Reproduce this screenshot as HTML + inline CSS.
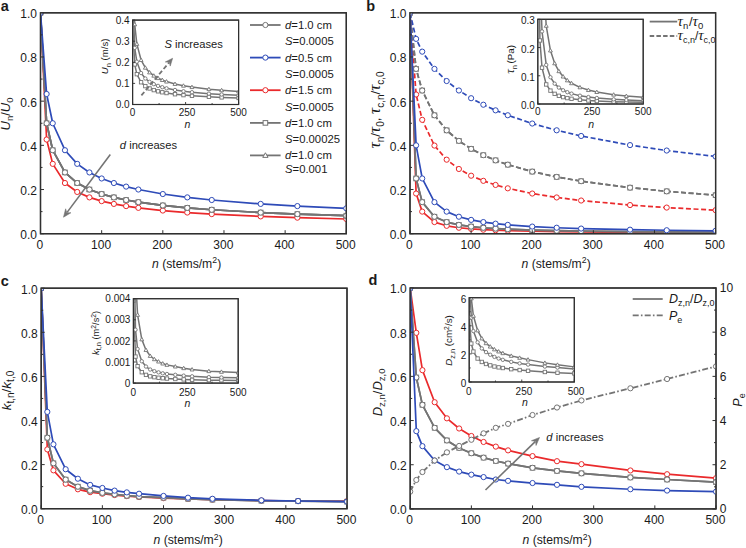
<!DOCTYPE html>
<html><head><meta charset="utf-8"><title>Figure</title>
<style>html,body{margin:0;padding:0;background:#fff;}svg{display:block;}text{font-family:"Liberation Sans",sans-serif;}</style></head>
<body>
<svg width="746" height="548" viewBox="0 0 746 548" font-family='"Liberation Sans", sans-serif' fill="#1a1a1a">
<rect width="746" height="548" fill="#fff"/>
<defs>
<clipPath id="ca"><rect x="40.5" y="12.8" width="305.8" height="220.9"/></clipPath>
<clipPath id="cb"><rect x="410" y="12.8" width="305.6" height="220.9"/></clipPath>
<clipPath id="cc"><rect x="41.2" y="288.2" width="305.8" height="220.5"/></clipPath>
<clipPath id="cd"><rect x="410.2" y="288" width="305.8" height="220.9"/></clipPath>
<clipPath id="cia"><rect x="132.6" y="20.1" width="106" height="84.4"/></clipPath>
<clipPath id="cib"><rect x="537.8" y="19.3" width="105.4" height="84.7"/></clipPath>
<clipPath id="cic"><rect x="133.4" y="298.7" width="104.8" height="84.4"/></clipPath>
<clipPath id="cid"><rect x="469.2" y="297.7" width="105.1" height="84.3"/></clipPath>
</defs>
<text x="0.8" y="11.2" font-size="14.5" text-anchor="start" font-weight="bold">a</text>
<text x="366.3" y="10.6" font-size="14.5" text-anchor="start" font-weight="bold">b</text>
<text x="0.8" y="285.8" font-size="14.5" text-anchor="start" font-weight="bold">c</text>
<text x="368.4" y="284.8" font-size="14.5" text-anchor="start" font-weight="bold">d</text>
<rect x="40.5" y="12.8" width="305.8" height="220.9" fill="#fff" stroke="#303030" stroke-width="1.3"/>
<rect x="410" y="12.8" width="305.6" height="220.9" fill="#fff" stroke="#303030" stroke-width="1.3"/>
<rect x="41.2" y="288.2" width="305.8" height="220.5" fill="#fff" stroke="#303030" stroke-width="1.3"/>
<rect x="410.2" y="288" width="305.8" height="220.9" fill="#fff" stroke="#303030" stroke-width="1.3"/>
<path d="M40.5 12.8L46.62 139.51L52.73 163.85L64.96 183.02L77.2 191.95L89.43 197.38L101.66 201.13L113.89 203.91L126.12 206.09L138.36 207.85L162.82 210.54L187.28 212.54L211.75 214.1L260.68 216.4L297.37 217.67L346.3 219.01" stroke="#ea2a2c" stroke-width="1.7" fill="none" stroke-linejoin="round" clip-path="url(#ca)"/>
<g fill="#fff" stroke="#ea2a2c" stroke-width="1.0" clip-path="url(#ca)"><circle cx="40.5" cy="12.8" r="2.6"/><circle cx="46.62" cy="139.51" r="2.6"/><circle cx="52.73" cy="163.85" r="2.6"/><circle cx="64.96" cy="183.02" r="2.6"/><circle cx="77.2" cy="191.95" r="2.6"/><circle cx="89.43" cy="197.38" r="2.6"/><circle cx="101.66" cy="201.13" r="2.6"/><circle cx="113.89" cy="203.91" r="2.6"/><circle cx="126.12" cy="206.09" r="2.6"/><circle cx="138.36" cy="207.85" r="2.6"/><circle cx="162.82" cy="210.54" r="2.6"/><circle cx="187.28" cy="212.54" r="2.6"/><circle cx="211.75" cy="214.1" r="2.6"/><circle cx="260.68" cy="216.4" r="2.6"/><circle cx="297.37" cy="217.67" r="2.6"/><circle cx="346.3" cy="219.01" r="2.6"/></g>
<path d="M40.5 12.8L46.62 123.25L52.73 150.21L64.96 172.43L77.2 183.02L89.43 189.52L101.66 194.03L113.89 197.38L126.12 200.01L138.36 202.14L162.82 205.42L187.28 207.85L211.75 209.74L260.68 212.54L297.37 214.1L346.3 215.72" stroke="#747474" stroke-width="1.7" fill="none" stroke-linejoin="round" clip-path="url(#ca)"/>
<g fill="#fff" stroke="#747474" stroke-width="1.0" clip-path="url(#ca)"><rect x="38.2" y="10.5" width="4.6" height="4.6"/><rect x="44.32" y="120.95" width="4.6" height="4.6"/><rect x="50.43" y="147.91" width="4.6" height="4.6"/><rect x="62.66" y="170.13" width="4.6" height="4.6"/><rect x="74.9" y="180.72" width="4.6" height="4.6"/><rect x="87.13" y="187.22" width="4.6" height="4.6"/><rect x="99.36" y="191.73" width="4.6" height="4.6"/><rect x="111.59" y="195.08" width="4.6" height="4.6"/><rect x="123.82" y="197.71" width="4.6" height="4.6"/><rect x="136.06" y="199.84" width="4.6" height="4.6"/><rect x="160.52" y="203.12" width="4.6" height="4.6"/><rect x="184.98" y="205.55" width="4.6" height="4.6"/><rect x="209.45" y="207.44" width="4.6" height="4.6"/><rect x="258.38" y="210.24" width="4.6" height="4.6"/><rect x="295.07" y="211.8" width="4.6" height="4.6"/><rect x="344" y="213.42" width="4.6" height="4.6"/></g>
<path d="M40.5 12.8L46.62 123.25L52.73 150.21L64.96 172.43L77.2 183.02L89.43 189.52L101.66 194.03L113.89 197.38L126.12 200.01L138.36 202.14L162.82 205.42L187.28 207.85L211.75 209.74L260.68 212.54L297.37 214.1L346.3 215.72" stroke="#747474" stroke-width="1.7" fill="none" stroke-linejoin="round" clip-path="url(#ca)"/>
<g fill="#fff" stroke="#747474" stroke-width="1.0" clip-path="url(#ca)"><path d="M40.5 10.16L43.14 14.78L37.86 14.78Z"/><path d="M46.62 120.61L49.26 125.23L43.97 125.23Z"/><path d="M52.73 147.56L55.38 152.19L50.09 152.19Z"/><path d="M64.96 169.79L67.61 174.42L62.32 174.42Z"/><path d="M77.2 180.38L79.84 185.01L74.55 185.01Z"/><path d="M89.43 186.87L92.07 191.5L86.78 191.5Z"/><path d="M101.66 191.38L104.3 196.01L99.02 196.01Z"/><path d="M113.89 194.74L116.54 199.37L111.25 199.37Z"/><path d="M126.12 197.37L128.77 202L123.48 202Z"/><path d="M138.36 199.5L141 204.13L135.71 204.13Z"/><path d="M162.82 202.77L165.47 207.4L160.17 207.4Z"/><path d="M187.28 205.2L189.93 209.83L184.64 209.83Z"/><path d="M211.75 207.1L214.39 211.72L209.1 211.72Z"/><path d="M260.68 209.9L263.32 214.53L258.03 214.53Z"/><path d="M297.37 211.45L300.02 216.08L294.73 216.08Z"/><path d="M346.3 213.08L348.94 217.71L343.66 217.71Z"/></g>
<path d="M40.5 12.8L46.62 123.25L52.73 150.21L64.96 172.43L77.2 183.02L89.43 189.52L101.66 194.03L113.89 197.38L126.12 200.01L138.36 202.14L162.82 205.42L187.28 207.85L211.75 209.74L260.68 212.54L297.37 214.1L346.3 215.72" stroke="#747474" stroke-width="1.7" fill="none" stroke-linejoin="round" clip-path="url(#ca)"/>
<g fill="#fff" stroke="#747474" stroke-width="1.0" clip-path="url(#ca)"><circle cx="40.5" cy="12.8" r="2.6"/><circle cx="46.62" cy="123.25" r="2.6"/><circle cx="52.73" cy="150.21" r="2.6"/><circle cx="64.96" cy="172.43" r="2.6"/><circle cx="77.2" cy="183.02" r="2.6"/><circle cx="89.43" cy="189.52" r="2.6"/><circle cx="101.66" cy="194.03" r="2.6"/><circle cx="113.89" cy="197.38" r="2.6"/><circle cx="126.12" cy="200.01" r="2.6"/><circle cx="138.36" cy="202.14" r="2.6"/><circle cx="162.82" cy="205.42" r="2.6"/><circle cx="187.28" cy="207.85" r="2.6"/><circle cx="211.75" cy="209.74" r="2.6"/><circle cx="260.68" cy="212.54" r="2.6"/><circle cx="297.37" cy="214.1" r="2.6"/><circle cx="346.3" cy="215.72" r="2.6"/></g>
<path d="M40.5 12.8L46.62 93.99L52.73 123.25L64.96 150.21L77.2 163.85L89.43 172.43L101.66 178.47L113.89 183.02L126.12 186.6L138.36 189.52L162.82 194.03L187.28 197.38L211.75 200.01L260.68 203.91L297.37 206.09L346.3 208.36" stroke="#2e4bb8" stroke-width="1.7" fill="none" stroke-linejoin="round" clip-path="url(#ca)"/>
<g fill="#fff" stroke="#2e4bb8" stroke-width="1.0" clip-path="url(#ca)"><circle cx="40.5" cy="12.8" r="2.6"/><circle cx="46.62" cy="93.99" r="2.6"/><circle cx="52.73" cy="123.25" r="2.6"/><circle cx="64.96" cy="150.21" r="2.6"/><circle cx="77.2" cy="163.85" r="2.6"/><circle cx="89.43" cy="172.43" r="2.6"/><circle cx="101.66" cy="178.47" r="2.6"/><circle cx="113.89" cy="183.02" r="2.6"/><circle cx="126.12" cy="186.6" r="2.6"/><circle cx="138.36" cy="189.52" r="2.6"/><circle cx="162.82" cy="194.03" r="2.6"/><circle cx="187.28" cy="197.38" r="2.6"/><circle cx="211.75" cy="200.01" r="2.6"/><circle cx="260.68" cy="203.91" r="2.6"/><circle cx="297.37" cy="206.09" r="2.6"/><circle cx="346.3" cy="208.36" r="2.6"/></g>
<path d="M110.3 154.5L67.09 212.39" stroke="#747474" stroke-width="1.6" fill="none"/>
<path d="M63.5 217.2L65.64 208.82L66.79 212.79L70.93 212.76Z" fill="#747474" stroke="#747474" stroke-width="0.6" stroke-linejoin="miter"/>
<text x="119.8" y="149.1" font-size="11.2" text-anchor="start" ><tspan font-style="italic">d</tspan> increases</text>
<rect x="132.6" y="20.1" width="106" height="84.4" fill="#fff" stroke="#303030" stroke-width="1.1"/>
<path d="M132.6 24.32L134.72 64.41L136.84 74.19L141.08 82.26L145.32 86.11L149.56 88.46L153.8 90.1L158.04 91.32L162.28 92.27L166.52 93.05L175 94.23L183.48 95.12L191.96 95.8L208.92 96.82L221.64 97.39L238.6 97.98" stroke="#747474" stroke-width="1.5" fill="none" stroke-linejoin="round" clip-path="url(#cia)"/>
<g fill="#fff" stroke="#747474" stroke-width="0.9" clip-path="url(#cia)"><rect x="130.9" y="22.62" width="3.4" height="3.4"/><rect x="133.02" y="62.71" width="3.4" height="3.4"/><rect x="135.14" y="72.49" width="3.4" height="3.4"/><rect x="139.38" y="80.56" width="3.4" height="3.4"/><rect x="143.62" y="84.41" width="3.4" height="3.4"/><rect x="147.86" y="86.76" width="3.4" height="3.4"/><rect x="152.1" y="88.4" width="3.4" height="3.4"/><rect x="156.34" y="89.62" width="3.4" height="3.4"/><rect x="160.58" y="90.57" width="3.4" height="3.4"/><rect x="164.82" y="91.35" width="3.4" height="3.4"/><rect x="173.3" y="92.53" width="3.4" height="3.4"/><rect x="181.78" y="93.42" width="3.4" height="3.4"/><rect x="190.26" y="94.1" width="3.4" height="3.4"/><rect x="207.22" y="95.12" width="3.4" height="3.4"/><rect x="219.94" y="95.69" width="3.4" height="3.4"/><rect x="236.9" y="96.28" width="3.4" height="3.4"/></g>
<path d="M132.6 -8.81L134.72 47.85L136.84 61.67L141.08 73.07L145.32 78.51L149.56 81.84L153.8 84.15L158.04 85.87L162.28 87.22L166.52 88.31L175 89.99L183.48 91.24L191.96 92.21L208.92 93.65L221.64 94.45L238.6 95.28" stroke="#747474" stroke-width="1.5" fill="none" stroke-linejoin="round" clip-path="url(#cia)"/>
<g fill="#fff" stroke="#747474" stroke-width="0.9" clip-path="url(#cia)"><circle cx="134.72" cy="47.85" r="1.7"/><circle cx="136.84" cy="61.67" r="1.7"/><circle cx="141.08" cy="73.07" r="1.7"/><circle cx="145.32" cy="78.51" r="1.7"/><circle cx="149.56" cy="81.84" r="1.7"/><circle cx="153.8" cy="84.15" r="1.7"/><circle cx="158.04" cy="85.87" r="1.7"/><circle cx="162.28" cy="87.22" r="1.7"/><circle cx="166.52" cy="88.31" r="1.7"/><circle cx="175" cy="89.99" r="1.7"/><circle cx="183.48" cy="91.24" r="1.7"/><circle cx="191.96" cy="92.21" r="1.7"/><circle cx="208.92" cy="93.65" r="1.7"/><circle cx="221.64" cy="94.45" r="1.7"/><circle cx="238.6" cy="95.28" r="1.7"/></g>
<path d="M132.6 -55.86L134.72 24.32L136.84 43.89L141.08 60.02L145.32 67.71L149.56 72.43L153.8 75.7L158.04 78.14L162.28 80.05L166.52 81.59L175 83.97L183.48 85.73L191.96 87.11L208.92 89.14L221.64 90.27L238.6 91.45" stroke="#747474" stroke-width="1.5" fill="none" stroke-linejoin="round" clip-path="url(#cia)"/>
<g fill="#fff" stroke="#747474" stroke-width="0.9" clip-path="url(#cia)"><path d="M134.72 22.36L136.68 25.79L132.76 25.79Z"/><path d="M136.84 41.93L138.8 45.36L134.88 45.36Z"/><path d="M141.08 58.07L143.03 61.49L139.12 61.49Z"/><path d="M145.32 65.76L147.28 69.18L143.36 69.18Z"/><path d="M149.56 70.47L151.52 73.89L147.6 73.89Z"/><path d="M153.8 73.74L155.75 77.16L151.84 77.16Z"/><path d="M158.04 76.18L160 79.6L156.08 79.6Z"/><path d="M162.28 78.09L164.24 81.51L160.32 81.51Z"/><path d="M166.52 79.64L168.47 83.06L164.56 83.06Z"/><path d="M175 82.01L176.96 85.43L173.04 85.43Z"/><path d="M183.48 83.78L185.44 87.2L181.52 87.2Z"/><path d="M191.96 85.15L193.91 88.57L190 88.57Z"/><path d="M208.92 87.19L210.88 90.61L206.96 90.61Z"/><path d="M221.64 88.32L223.59 91.74L219.68 91.74Z"/><path d="M238.6 89.5L240.56 92.92L236.64 92.92Z"/></g>
<rect x="132.6" y="20.1" width="106" height="84.4" fill="none" stroke="#303030" stroke-width="1.1"/>
<path d="M132.6 104.5V102M185.6 104.5V102M238.6 104.5V102M159.1 104.5V103M212.1 104.5V103M132.6 104.5H135.1M132.6 83.4H135.1M132.6 62.3H135.1M132.6 41.2H135.1M132.6 20.1H135.1" stroke="#303030" stroke-width="0.9" fill="none"/>
<text x="129.6" y="108.1" font-size="10" text-anchor="end" >0.0</text>
<text x="129.6" y="87" font-size="10" text-anchor="end" >0.1</text>
<text x="129.6" y="65.9" font-size="10" text-anchor="end" >0.2</text>
<text x="129.6" y="44.8" font-size="10" text-anchor="end" >0.3</text>
<text x="129.6" y="23.7" font-size="10" text-anchor="end" >0.4</text>
<text x="132.6" y="116.4" font-size="10" text-anchor="middle" >0</text>
<text x="187.1" y="116.4" font-size="10" text-anchor="middle" >250</text>
<text x="238.6" y="116.4" font-size="10" text-anchor="middle" >500</text>
<text x="187.5" y="127.8" font-size="10.5" text-anchor="middle" ><tspan font-style="italic">n</tspan></text>
<text transform="translate(108,56.4) rotate(-90)" font-size="9.6" text-anchor="middle"><tspan font-style="italic">U</tspan><tspan font-size="7.5" dy="2.5">n</tspan><tspan dy="-2.5"> </tspan> (m/s)</text>
<path d="M141.4 95.4L169.06 62.51" stroke="#747474" stroke-width="1.8" fill="none" stroke-dasharray="4.5 2.4"/>
<path d="M172.6 58.3L170.22 66.1L169.38 62.13L165.32 61.98Z" fill="#747474" stroke="#747474" stroke-width="0.6" stroke-linejoin="miter"/>
<text x="164.4" y="48.3" font-size="11.2" text-anchor="start" ><tspan font-style="italic">S</tspan> increases</text>
<path d="M250 25H280.6" stroke="#747474" stroke-width="1.8"/>
<g fill="#fff" stroke="#747474" stroke-width="1.0"><circle cx="265.4" cy="25" r="2.6"/></g>
<text x="285" y="28.9" font-size="11.3" text-anchor="start" ><tspan font-style="italic">d</tspan>=1.0 cm</text>
<text x="285" y="45.3" font-size="11.3" text-anchor="start" ><tspan font-style="italic">S</tspan>=0.0005</text>
<path d="M250 57.6H280.6" stroke="#2e4bb8" stroke-width="1.8"/>
<g fill="#fff" stroke="#2e4bb8" stroke-width="1.0"><circle cx="265.4" cy="57.6" r="2.6"/></g>
<text x="285" y="61.5" font-size="11.3" text-anchor="start" ><tspan font-style="italic">d</tspan>=0.5 cm</text>
<text x="285" y="77.9" font-size="11.3" text-anchor="start" ><tspan font-style="italic">S</tspan>=0.0005</text>
<path d="M250 90.2H280.6" stroke="#ea2a2c" stroke-width="1.8"/>
<g fill="#fff" stroke="#ea2a2c" stroke-width="1.0"><circle cx="265.4" cy="90.2" r="2.6"/></g>
<text x="285" y="94.1" font-size="11.3" text-anchor="start" ><tspan font-style="italic">d</tspan>=1.5 cm</text>
<text x="285" y="110.5" font-size="11.3" text-anchor="start" ><tspan font-style="italic">S</tspan>=0.0005</text>
<path d="M250 122.9H280.6" stroke="#747474" stroke-width="1.8"/>
<g fill="#fff" stroke="#747474" stroke-width="1.0"><rect x="263.1" y="120.6" width="4.6" height="4.6"/></g>
<text x="285" y="126.8" font-size="11.3" text-anchor="start" ><tspan font-style="italic">d</tspan>=1.0 cm</text>
<text x="285" y="143.2" font-size="11.3" text-anchor="start" ><tspan font-style="italic">S</tspan>=0.00025</text>
<path d="M250 155.4H280.6" stroke="#747474" stroke-width="1.8"/>
<g fill="#fff" stroke="#747474" stroke-width="1.0"><path d="M265.4 152.75L268.04 157.38L262.75 157.38Z"/></g>
<text x="285" y="159.3" font-size="11.3" text-anchor="start" ><tspan font-style="italic">d</tspan>=1.0 cm</text>
<text x="285" y="172.7" font-size="11.3" text-anchor="start" ><tspan font-style="italic">S</tspan>=0.001</text>
<path d="M40.5 233.7V230.2M101.66 233.7V230.2M162.82 233.7V230.2M223.98 233.7V230.2M285.14 233.7V230.2M346.3 233.7V230.2M40.5 233.7H44M40.5 189.52H44M40.5 145.34H44M40.5 101.16H44M40.5 56.98H44M40.5 12.8H44M40.5 211.61H42.5M40.5 167.43H42.5M40.5 123.25H42.5M40.5 79.07H42.5M40.5 34.89H42.5" stroke="#303030" stroke-width="1.0" fill="none"/>
<rect x="40.5" y="12.8" width="305.8" height="220.9" fill="none" stroke="#303030" stroke-width="1.3"/>
<text x="37" y="239.1" font-size="12" text-anchor="end" >0.0</text>
<text x="37" y="194.92" font-size="12" text-anchor="end" >0.2</text>
<text x="37" y="150.74" font-size="12" text-anchor="end" >0.4</text>
<text x="37" y="106.56" font-size="12" text-anchor="end" >0.6</text>
<text x="37" y="62.38" font-size="12" text-anchor="end" >0.8</text>
<text x="37" y="18.2" font-size="12" text-anchor="end" >1.0</text>
<text x="39.9" y="248.7" font-size="12" text-anchor="middle" >0</text>
<text x="101.06" y="248.7" font-size="12" text-anchor="middle" >100</text>
<text x="162.22" y="248.7" font-size="12" text-anchor="middle" >200</text>
<text x="223.38" y="248.7" font-size="12" text-anchor="middle" >300</text>
<text x="284.54" y="248.7" font-size="12" text-anchor="middle" >400</text>
<text x="345.7" y="248.7" font-size="12" text-anchor="middle" >500</text>
<text x="152" y="267.6" font-size="12.2" text-anchor="start" ><tspan font-style="italic">n</tspan> (stems/m<tspan font-size="8.7" dy="-4.7">2</tspan><tspan dy="4.7">)</tspan></text>
<text transform="translate(10,114) rotate(-90)" font-size="13" text-anchor="middle"><tspan font-style="italic">U</tspan><tspan font-size="9.5" dy="3">n</tspan><tspan dy="-3">/</tspan><tspan font-style="italic">U</tspan><tspan font-size="9.5" dy="3">0</tspan></text>
<path d="M410 12.8L416.11 94.49L422.22 119.84L434.45 145.56L446.67 159.68L458.9 168.98L471.12 175.7L483.34 180.84L495.57 184.94L507.79 188.31L532.24 193.53L556.69 197.45L581.14 200.52L630.03 205.05L666.7 207.57L715.6 210.18" stroke="#ea2a2c" stroke-width="1.7" fill="none" stroke-linejoin="round" stroke-dasharray="5 2.6" clip-path="url(#cb)"/>
<g fill="#fff" stroke="#ea2a2c" stroke-width="1.0" clip-path="url(#cb)"><circle cx="410" cy="12.8" r="2.6"/><circle cx="416.11" cy="94.49" r="2.6"/><circle cx="422.22" cy="119.84" r="2.6"/><circle cx="434.45" cy="145.56" r="2.6"/><circle cx="446.67" cy="159.68" r="2.6"/><circle cx="458.9" cy="168.98" r="2.6"/><circle cx="471.12" cy="175.7" r="2.6"/><circle cx="483.34" cy="180.84" r="2.6"/><circle cx="495.57" cy="184.94" r="2.6"/><circle cx="507.79" cy="188.31" r="2.6"/><circle cx="532.24" cy="193.53" r="2.6"/><circle cx="556.69" cy="197.45" r="2.6"/><circle cx="581.14" cy="200.52" r="2.6"/><circle cx="630.03" cy="205.05" r="2.6"/><circle cx="666.7" cy="207.57" r="2.6"/><circle cx="715.6" cy="210.18" r="2.6"/></g>
<path d="M410 12.8L416.11 68.91L422.22 90.53L434.45 115.29L446.67 130.34L458.9 140.89L471.12 148.86L483.34 155.18L495.57 160.34L507.79 164.68L532.24 171.6L556.69 176.93L581.14 181.19L630.03 187.66L666.7 191.32L715.6 195.2" stroke="#747474" stroke-width="1.7" fill="none" stroke-linejoin="round" stroke-dasharray="5 2.6" clip-path="url(#cb)"/>
<g fill="#fff" stroke="#747474" stroke-width="1.0" clip-path="url(#cb)"><rect x="407.7" y="10.5" width="4.6" height="4.6"/><rect x="413.81" y="66.61" width="4.6" height="4.6"/><rect x="419.92" y="88.23" width="4.6" height="4.6"/><rect x="432.15" y="112.99" width="4.6" height="4.6"/><rect x="444.37" y="128.04" width="4.6" height="4.6"/><rect x="456.6" y="138.59" width="4.6" height="4.6"/><rect x="468.82" y="146.56" width="4.6" height="4.6"/><rect x="481.04" y="152.88" width="4.6" height="4.6"/><rect x="493.27" y="158.04" width="4.6" height="4.6"/><rect x="505.49" y="162.38" width="4.6" height="4.6"/><rect x="529.94" y="169.3" width="4.6" height="4.6"/><rect x="554.39" y="174.63" width="4.6" height="4.6"/><rect x="578.84" y="178.89" width="4.6" height="4.6"/><rect x="627.73" y="185.36" width="4.6" height="4.6"/><rect x="664.4" y="189.02" width="4.6" height="4.6"/><rect x="713.3" y="192.9" width="4.6" height="4.6"/></g>
<path d="M410 12.8L416.11 68.91L422.22 90.53L434.45 115.29L446.67 130.34L458.9 140.89L471.12 148.86L483.34 155.18L495.57 160.34L507.79 164.68L532.24 171.6L556.69 176.93L581.14 181.19L630.03 187.66L666.7 191.32L715.6 195.2" stroke="#747474" stroke-width="1.7" fill="none" stroke-linejoin="round" stroke-dasharray="5 2.6" clip-path="url(#cb)"/>
<g fill="#fff" stroke="#747474" stroke-width="1.0" clip-path="url(#cb)"><circle cx="410" cy="12.8" r="2.6"/><circle cx="416.11" cy="68.91" r="2.6"/><circle cx="422.22" cy="90.53" r="2.6"/><circle cx="434.45" cy="115.29" r="2.6"/><circle cx="446.67" cy="130.34" r="2.6"/><circle cx="458.9" cy="140.89" r="2.6"/><circle cx="471.12" cy="148.86" r="2.6"/><circle cx="483.34" cy="155.18" r="2.6"/><circle cx="495.57" cy="160.34" r="2.6"/><circle cx="507.79" cy="164.68" r="2.6"/><circle cx="532.24" cy="171.6" r="2.6"/><circle cx="556.69" cy="176.93" r="2.6"/><circle cx="581.14" cy="181.19" r="2.6"/><circle cx="630.03" cy="187.66" r="2.6"/><circle cx="666.7" cy="191.32" r="2.6"/><circle cx="715.6" cy="195.2" r="2.6"/></g>
<path d="M410 12.8L416.11 38.88L422.22 51.65L434.45 68.88L446.67 81.04L458.9 90.49L471.12 98.21L483.34 104.72L495.57 110.33L507.79 115.25L532.24 123.53L556.69 130.3L581.14 135.98L630.03 145.09L666.7 150.53L715.6 156.52" stroke="#2e4bb8" stroke-width="1.7" fill="none" stroke-linejoin="round" stroke-dasharray="5 2.6" clip-path="url(#cb)"/>
<g fill="#fff" stroke="#2e4bb8" stroke-width="1.0" clip-path="url(#cb)"><circle cx="410" cy="12.8" r="2.6"/><circle cx="416.11" cy="38.88" r="2.6"/><circle cx="422.22" cy="51.65" r="2.6"/><circle cx="434.45" cy="68.88" r="2.6"/><circle cx="446.67" cy="81.04" r="2.6"/><circle cx="458.9" cy="90.49" r="2.6"/><circle cx="471.12" cy="98.21" r="2.6"/><circle cx="483.34" cy="104.72" r="2.6"/><circle cx="495.57" cy="110.33" r="2.6"/><circle cx="507.79" cy="115.25" r="2.6"/><circle cx="532.24" cy="123.53" r="2.6"/><circle cx="556.69" cy="130.3" r="2.6"/><circle cx="581.14" cy="135.98" r="2.6"/><circle cx="630.03" cy="145.09" r="2.6"/><circle cx="666.7" cy="150.53" r="2.6"/><circle cx="715.6" cy="156.52" r="2.6"/></g>
<path d="M410 12.8L416.11 193.54L422.22 211.61L434.45 222.07L446.67 225.81L458.9 227.73L471.12 228.9L483.34 229.68L495.57 230.25L507.79 230.67L532.24 231.27L556.69 231.67L581.14 231.96L630.03 232.34L666.7 232.54L715.6 232.72" stroke="#ea2a2c" stroke-width="1.7" fill="none" stroke-linejoin="round" clip-path="url(#cb)"/>
<g fill="#fff" stroke="#ea2a2c" stroke-width="1.0" clip-path="url(#cb)"><circle cx="410" cy="12.8" r="2.6"/><circle cx="416.11" cy="193.54" r="2.6"/><circle cx="422.22" cy="211.61" r="2.6"/><circle cx="434.45" cy="222.07" r="2.6"/><circle cx="446.67" cy="225.81" r="2.6"/><circle cx="458.9" cy="227.73" r="2.6"/><circle cx="471.12" cy="228.9" r="2.6"/><circle cx="483.34" cy="229.68" r="2.6"/><circle cx="495.57" cy="230.25" r="2.6"/><circle cx="507.79" cy="230.67" r="2.6"/><circle cx="532.24" cy="231.27" r="2.6"/><circle cx="556.69" cy="231.67" r="2.6"/><circle cx="581.14" cy="231.96" r="2.6"/><circle cx="630.03" cy="232.34" r="2.6"/><circle cx="666.7" cy="232.54" r="2.6"/><circle cx="715.6" cy="232.72" r="2.6"/></g>
<path d="M410 12.8L416.11 178.47L422.22 202.14L434.45 216.71L446.67 222.07L458.9 224.86L471.12 226.57L483.34 227.73L495.57 228.56L507.79 229.19L532.24 230.08L556.69 230.67L581.14 231.1L630.03 231.67L666.7 231.96L715.6 232.24" stroke="#747474" stroke-width="1.7" fill="none" stroke-linejoin="round" clip-path="url(#cb)"/>
<g fill="#fff" stroke="#747474" stroke-width="1.0" clip-path="url(#cb)"><rect x="407.7" y="10.5" width="4.6" height="4.6"/><rect x="413.81" y="176.17" width="4.6" height="4.6"/><rect x="419.92" y="199.84" width="4.6" height="4.6"/><rect x="432.15" y="214.41" width="4.6" height="4.6"/><rect x="444.37" y="219.77" width="4.6" height="4.6"/><rect x="456.6" y="222.56" width="4.6" height="4.6"/><rect x="468.82" y="224.27" width="4.6" height="4.6"/><rect x="481.04" y="225.43" width="4.6" height="4.6"/><rect x="493.27" y="226.26" width="4.6" height="4.6"/><rect x="505.49" y="226.89" width="4.6" height="4.6"/><rect x="529.94" y="227.78" width="4.6" height="4.6"/><rect x="554.39" y="228.37" width="4.6" height="4.6"/><rect x="578.84" y="228.8" width="4.6" height="4.6"/><rect x="627.73" y="229.37" width="4.6" height="4.6"/><rect x="664.4" y="229.66" width="4.6" height="4.6"/><rect x="713.3" y="229.94" width="4.6" height="4.6"/></g>
<path d="M410 12.8L416.11 178.47L422.22 202.14L434.45 216.71L446.67 222.07L458.9 224.86L471.12 226.57L483.34 227.73L495.57 228.56L507.79 229.19L532.24 230.08L556.69 230.67L581.14 231.1L630.03 231.67L666.7 231.96L715.6 232.24" stroke="#747474" stroke-width="1.7" fill="none" stroke-linejoin="round" clip-path="url(#cb)"/>
<g fill="#fff" stroke="#747474" stroke-width="1.0" clip-path="url(#cb)"><circle cx="410" cy="12.8" r="2.6"/><circle cx="416.11" cy="178.47" r="2.6"/><circle cx="422.22" cy="202.14" r="2.6"/><circle cx="434.45" cy="216.71" r="2.6"/><circle cx="446.67" cy="222.07" r="2.6"/><circle cx="458.9" cy="224.86" r="2.6"/><circle cx="471.12" cy="226.57" r="2.6"/><circle cx="483.34" cy="227.73" r="2.6"/><circle cx="495.57" cy="228.56" r="2.6"/><circle cx="507.79" cy="229.19" r="2.6"/><circle cx="532.24" cy="230.08" r="2.6"/><circle cx="556.69" cy="230.67" r="2.6"/><circle cx="581.14" cy="231.1" r="2.6"/><circle cx="630.03" cy="231.67" r="2.6"/><circle cx="666.7" cy="231.96" r="2.6"/><circle cx="715.6" cy="232.24" r="2.6"/></g>
<path d="M410 12.8L416.11 145.34L422.22 178.47L434.45 202.14L446.67 211.61L458.9 216.71L471.12 219.89L483.34 222.07L495.57 223.66L507.79 224.86L532.24 226.57L556.69 227.73L581.14 228.56L630.03 229.68L666.7 230.25L715.6 230.79" stroke="#2e4bb8" stroke-width="1.7" fill="none" stroke-linejoin="round" clip-path="url(#cb)"/>
<g fill="#fff" stroke="#2e4bb8" stroke-width="1.0" clip-path="url(#cb)"><circle cx="410" cy="12.8" r="2.6"/><circle cx="416.11" cy="145.34" r="2.6"/><circle cx="422.22" cy="178.47" r="2.6"/><circle cx="434.45" cy="202.14" r="2.6"/><circle cx="446.67" cy="211.61" r="2.6"/><circle cx="458.9" cy="216.71" r="2.6"/><circle cx="471.12" cy="219.89" r="2.6"/><circle cx="483.34" cy="222.07" r="2.6"/><circle cx="495.57" cy="223.66" r="2.6"/><circle cx="507.79" cy="224.86" r="2.6"/><circle cx="532.24" cy="226.57" r="2.6"/><circle cx="556.69" cy="227.73" r="2.6"/><circle cx="581.14" cy="228.56" r="2.6"/><circle cx="630.03" cy="229.68" r="2.6"/><circle cx="666.7" cy="230.25" r="2.6"/><circle cx="715.6" cy="230.79" r="2.6"/></g>
<rect x="537.8" y="19.3" width="105.4" height="84.7" fill="#fff" stroke="#303030" stroke-width="1.1"/>
<path d="M537.8 -150.1L539.91 40.47L542.02 67.7L546.23 84.45L550.45 90.63L554.66 93.84L558.88 95.8L563.1 97.13L567.31 98.09L571.53 98.81L579.96 99.83L588.39 100.52L596.82 101.01L613.69 101.67L626.34 102L643.2 102.32" stroke="#747474" stroke-width="1.5" fill="none" stroke-linejoin="round" clip-path="url(#cib)"/>
<g fill="#fff" stroke="#747474" stroke-width="0.9" clip-path="url(#cib)"><rect x="538.21" y="38.77" width="3.4" height="3.4"/><rect x="540.32" y="66" width="3.4" height="3.4"/><rect x="544.53" y="82.75" width="3.4" height="3.4"/><rect x="548.75" y="88.93" width="3.4" height="3.4"/><rect x="552.96" y="92.14" width="3.4" height="3.4"/><rect x="557.18" y="94.1" width="3.4" height="3.4"/><rect x="561.4" y="95.43" width="3.4" height="3.4"/><rect x="565.61" y="96.39" width="3.4" height="3.4"/><rect x="569.83" y="97.11" width="3.4" height="3.4"/><rect x="578.26" y="98.13" width="3.4" height="3.4"/><rect x="586.69" y="98.82" width="3.4" height="3.4"/><rect x="595.12" y="99.31" width="3.4" height="3.4"/><rect x="611.99" y="99.97" width="3.4" height="3.4"/><rect x="624.64" y="100.3" width="3.4" height="3.4"/><rect x="641.5" y="100.62" width="3.4" height="3.4"/></g>
<path d="M537.8 -404.2L539.91 -23.05L542.02 31.4L546.23 64.91L550.45 77.25L554.66 83.67L558.88 87.61L563.1 90.26L567.31 92.18L571.53 93.63L579.96 95.67L588.39 97.04L596.82 98.02L613.69 99.34L626.34 100L643.2 100.63" stroke="#747474" stroke-width="1.5" fill="none" stroke-linejoin="round" clip-path="url(#cib)"/>
<g fill="#fff" stroke="#747474" stroke-width="0.9" clip-path="url(#cib)"><circle cx="542.02" cy="31.4" r="1.7"/><circle cx="546.23" cy="64.91" r="1.7"/><circle cx="550.45" cy="77.25" r="1.7"/><circle cx="554.66" cy="83.67" r="1.7"/><circle cx="558.88" cy="87.61" r="1.7"/><circle cx="563.1" cy="90.26" r="1.7"/><circle cx="567.31" cy="92.18" r="1.7"/><circle cx="571.53" cy="93.63" r="1.7"/><circle cx="579.96" cy="95.67" r="1.7"/><circle cx="588.39" cy="97.04" r="1.7"/><circle cx="596.82" cy="98.02" r="1.7"/><circle cx="613.69" cy="99.34" r="1.7"/><circle cx="626.34" cy="100" r="1.7"/><circle cx="643.2" cy="100.63" r="1.7"/></g>
<path d="M537.8 -912.4L539.91 -150.1L542.02 -41.2L546.23 25.82L550.45 50.51L554.66 63.34L558.88 71.21L563.1 76.53L567.31 80.36L571.53 83.26L579.96 87.34L588.39 90.08L596.82 92.04L613.69 94.68L626.34 96L643.2 97.27" stroke="#747474" stroke-width="1.5" fill="none" stroke-linejoin="round" clip-path="url(#cib)"/>
<g fill="#fff" stroke="#747474" stroke-width="0.9" clip-path="url(#cib)"><path d="M546.23 23.86L548.19 27.28L544.28 27.28Z"/><path d="M550.45 48.55L552.4 51.97L548.49 51.97Z"/><path d="M554.66 61.39L556.62 64.81L552.71 64.81Z"/><path d="M558.88 69.26L560.84 72.68L556.92 72.68Z"/><path d="M563.1 74.57L565.05 78L561.14 78Z"/><path d="M567.31 78.41L569.27 81.83L565.36 81.83Z"/><path d="M571.53 81.3L573.48 84.72L569.57 84.72Z"/><path d="M579.96 85.38L581.92 88.8L578 88.8Z"/><path d="M588.39 88.12L590.35 91.54L586.44 91.54Z"/><path d="M596.82 90.09L598.78 93.51L594.87 93.51Z"/><path d="M613.69 92.72L615.64 96.14L611.73 96.14Z"/><path d="M626.34 94.04L628.29 97.46L624.38 97.46Z"/><path d="M643.2 95.31L645.16 98.74L641.25 98.74Z"/></g>
<rect x="537.8" y="19.3" width="105.4" height="84.7" fill="none" stroke="#303030" stroke-width="1.1"/>
<path d="M537.8 104V101.5M590.5 104V101.5M643.2 104V101.5M564.15 104V102.5M616.85 104V102.5M537.8 104H540.3M537.8 75.77H540.3M537.8 47.53H540.3M537.8 19.3H540.3" stroke="#303030" stroke-width="0.9" fill="none"/>
<text x="534.8" y="109" font-size="10" text-anchor="end" >0.0</text>
<text x="534.8" y="80.77" font-size="10" text-anchor="end" >0.1</text>
<text x="534.8" y="52.53" font-size="10" text-anchor="end" >0.2</text>
<text x="534.8" y="24.3" font-size="10" text-anchor="end" >0.3</text>
<text x="537.8" y="115.3" font-size="10" text-anchor="middle" >0</text>
<text x="592" y="115.3" font-size="10" text-anchor="middle" >250</text>
<text x="643.2" y="115.3" font-size="10" text-anchor="middle" >500</text>
<text x="591.1" y="127.6" font-size="10.5" text-anchor="middle" ><tspan font-style="italic">n</tspan></text>
<text transform="translate(514,59.4) rotate(-90)" font-size="9.8" text-anchor="middle"><tspan font-family="Liberation Serif" font-style="italic" font-size="13">τ</tspan><tspan font-size="7.5" dy="2.5">n</tspan><tspan dy="-2.5" dx="1.5">(Pa)</tspan></text>
<path d="M649.7 21.6H677.2" stroke="#747474" stroke-width="1.8"/>
<path d="M649.7 36H677.2" stroke="#747474" stroke-width="1.8" stroke-dasharray="4.5 2.2"/>
<text x="677.5" y="25.8" font-size="12" text-anchor="start" ><tspan font-family="Liberation Serif" font-style="italic" font-size="15">τ</tspan><tspan font-size="9.5" dy="3">n</tspan><tspan dy="-3" dx="0.8" font-size="13">/</tspan><tspan dx="0.6"></tspan><tspan font-family="Liberation Serif" font-style="italic" font-size="15">τ</tspan><tspan font-size="9.5" dy="3">0</tspan></text>
<text x="677.5" y="40.2" font-size="12" text-anchor="start" ><tspan font-family="Liberation Serif" font-style="italic" font-size="15">τ</tspan><tspan font-size="9" dy="3">c,n</tspan><tspan dy="-3">/</tspan><tspan font-family="Liberation Serif" font-style="italic" font-size="15">τ</tspan><tspan font-size="9" dy="3">c,0</tspan></text>
<path d="M410 233.7V230.2M471.12 233.7V230.2M532.24 233.7V230.2M593.36 233.7V230.2M654.48 233.7V230.2M715.6 233.7V230.2M410 233.7H413.5M410 189.52H413.5M410 145.34H413.5M410 101.16H413.5M410 56.98H413.5M410 12.8H413.5M410 211.61H412M410 167.43H412M410 123.25H412M410 79.07H412M410 34.89H412" stroke="#303030" stroke-width="1.0" fill="none"/>
<rect x="410" y="12.8" width="305.6" height="220.9" fill="none" stroke="#303030" stroke-width="1.3"/>
<text x="406.5" y="239.1" font-size="12" text-anchor="end" >0.0</text>
<text x="406.5" y="194.92" font-size="12" text-anchor="end" >0.2</text>
<text x="406.5" y="150.74" font-size="12" text-anchor="end" >0.4</text>
<text x="406.5" y="106.56" font-size="12" text-anchor="end" >0.6</text>
<text x="406.5" y="62.38" font-size="12" text-anchor="end" >0.8</text>
<text x="406.5" y="18.2" font-size="12" text-anchor="end" >1.0</text>
<text x="409.4" y="248.7" font-size="12" text-anchor="middle" >0</text>
<text x="470.52" y="248.7" font-size="12" text-anchor="middle" >100</text>
<text x="531.64" y="248.7" font-size="12" text-anchor="middle" >200</text>
<text x="592.76" y="248.7" font-size="12" text-anchor="middle" >300</text>
<text x="653.88" y="248.7" font-size="12" text-anchor="middle" >400</text>
<text x="715" y="248.7" font-size="12" text-anchor="middle" >500</text>
<text x="521.5" y="267.6" font-size="12.2" text-anchor="start" ><tspan font-style="italic">n</tspan> (stems/m<tspan font-size="8.7" dy="-4.7">2</tspan><tspan dy="4.7">)</tspan></text>
<text transform="translate(380.3,109.8) rotate(-90)" font-size="13.3" text-anchor="middle"><tspan font-family="Liberation Serif" font-style="italic" font-size="17">τ</tspan><tspan font-size="10" dy="3.2">n</tspan><tspan dy="-3.2">/</tspan><tspan font-family="Liberation Serif" font-style="italic" font-size="17">τ</tspan><tspan font-size="10" dy="3.2">0</tspan><tspan dy="-3.2">, </tspan><tspan font-family="Liberation Serif" font-style="italic" font-size="17">τ</tspan><tspan font-size="10" dy="3.2">c,n</tspan><tspan dy="-3.2">/</tspan><tspan font-family="Liberation Serif" font-style="italic" font-size="17">τ</tspan><tspan font-size="10" dy="3.2">c,0</tspan></text>
<path d="M41.2 288.2L47.32 449.39L53.43 470.33L65.66 483.78L77.9 489.3L90.13 492.16L102.36 493.71L114.59 495.03L126.82 496.13L139.06 497.01L163.52 498.12L187.98 499L212.45 499.66L261.38 500.54L298.07 500.98L347 501.2" stroke="#ea2a2c" stroke-width="1.7" fill="none" stroke-linejoin="round" clip-path="url(#cc)"/>
<g fill="#fff" stroke="#ea2a2c" stroke-width="1.0" clip-path="url(#cc)"><circle cx="41.2" cy="288.2" r="2.6"/><circle cx="47.32" cy="449.39" r="2.6"/><circle cx="53.43" cy="470.33" r="2.6"/><circle cx="65.66" cy="483.78" r="2.6"/><circle cx="77.9" cy="489.3" r="2.6"/><circle cx="90.13" cy="492.16" r="2.6"/><circle cx="102.36" cy="493.71" r="2.6"/><circle cx="114.59" cy="495.03" r="2.6"/><circle cx="126.82" cy="496.13" r="2.6"/><circle cx="139.06" cy="497.01" r="2.6"/><circle cx="163.52" cy="498.12" r="2.6"/><circle cx="187.98" cy="499" r="2.6"/><circle cx="212.45" cy="499.66" r="2.6"/><circle cx="261.38" cy="500.54" r="2.6"/><circle cx="298.07" cy="500.98" r="2.6"/><circle cx="347" cy="501.2" r="2.6"/></g>
<path d="M41.2 288.2L47.32 437.7L53.43 463.28L65.66 479.59L77.9 486.65L90.13 490.62L102.36 492.82L114.59 494.37L126.82 495.69L139.06 496.57L163.52 497.68L187.98 498.78L212.45 499.66L261.38 500.76L298.07 501.2L347 501.64" stroke="#747474" stroke-width="1.7" fill="none" stroke-linejoin="round" clip-path="url(#cc)"/>
<g fill="#fff" stroke="#747474" stroke-width="1.0" clip-path="url(#cc)"><rect x="38.9" y="285.9" width="4.6" height="4.6"/><rect x="45.02" y="435.4" width="4.6" height="4.6"/><rect x="51.13" y="460.98" width="4.6" height="4.6"/><rect x="63.36" y="477.29" width="4.6" height="4.6"/><rect x="75.6" y="484.35" width="4.6" height="4.6"/><rect x="87.83" y="488.32" width="4.6" height="4.6"/><rect x="100.06" y="490.52" width="4.6" height="4.6"/><rect x="112.29" y="492.07" width="4.6" height="4.6"/><rect x="124.52" y="493.39" width="4.6" height="4.6"/><rect x="136.76" y="494.27" width="4.6" height="4.6"/><rect x="161.22" y="495.38" width="4.6" height="4.6"/><rect x="185.68" y="496.48" width="4.6" height="4.6"/><rect x="210.15" y="497.36" width="4.6" height="4.6"/><rect x="259.08" y="498.46" width="4.6" height="4.6"/><rect x="295.77" y="498.9" width="4.6" height="4.6"/><rect x="344.7" y="499.34" width="4.6" height="4.6"/></g>
<path d="M41.2 288.2L47.32 437.7L53.43 463.28L65.66 479.59L77.9 486.65L90.13 490.62L102.36 492.82L114.59 494.37L126.82 495.69L139.06 496.57L163.52 497.68L187.98 498.78L212.45 499.66L261.38 500.76L298.07 501.2L347 501.64" stroke="#747474" stroke-width="1.7" fill="none" stroke-linejoin="round" clip-path="url(#cc)"/>
<g fill="#fff" stroke="#747474" stroke-width="1.0" clip-path="url(#cc)"><circle cx="41.2" cy="288.2" r="2.6"/><circle cx="47.32" cy="437.7" r="2.6"/><circle cx="53.43" cy="463.28" r="2.6"/><circle cx="65.66" cy="479.59" r="2.6"/><circle cx="77.9" cy="486.65" r="2.6"/><circle cx="90.13" cy="490.62" r="2.6"/><circle cx="102.36" cy="492.82" r="2.6"/><circle cx="114.59" cy="494.37" r="2.6"/><circle cx="126.82" cy="495.69" r="2.6"/><circle cx="139.06" cy="496.57" r="2.6"/><circle cx="163.52" cy="497.68" r="2.6"/><circle cx="187.98" cy="498.78" r="2.6"/><circle cx="212.45" cy="499.66" r="2.6"/><circle cx="261.38" cy="500.76" r="2.6"/><circle cx="298.07" cy="501.2" r="2.6"/><circle cx="347" cy="501.64" r="2.6"/></g>
<path d="M41.2 288.2L47.32 411.9L53.43 444.31L65.66 469.23L77.9 478.71L90.13 484.89L102.36 487.97L114.59 490.62L126.82 492.38L139.06 493.71L163.52 495.91L187.98 497.68L212.45 498.78L261.38 500.32L298.07 500.98L347 501.64" stroke="#2e4bb8" stroke-width="1.7" fill="none" stroke-linejoin="round" clip-path="url(#cc)"/>
<g fill="#fff" stroke="#2e4bb8" stroke-width="1.0" clip-path="url(#cc)"><circle cx="41.2" cy="288.2" r="2.6"/><circle cx="47.32" cy="411.9" r="2.6"/><circle cx="53.43" cy="444.31" r="2.6"/><circle cx="65.66" cy="469.23" r="2.6"/><circle cx="77.9" cy="478.71" r="2.6"/><circle cx="90.13" cy="484.89" r="2.6"/><circle cx="102.36" cy="487.97" r="2.6"/><circle cx="114.59" cy="490.62" r="2.6"/><circle cx="126.82" cy="492.38" r="2.6"/><circle cx="139.06" cy="493.71" r="2.6"/><circle cx="163.52" cy="495.91" r="2.6"/><circle cx="187.98" cy="497.68" r="2.6"/><circle cx="212.45" cy="498.78" r="2.6"/><circle cx="261.38" cy="500.32" r="2.6"/><circle cx="298.07" cy="500.98" r="2.6"/><circle cx="347" cy="501.64" r="2.6"/></g>
<rect x="133.4" y="298.7" width="104.8" height="84.4" fill="#fff" stroke="#303030" stroke-width="1.1"/>
<path d="M133.4 300.81L135.5 356.6L137.59 366.15L141.78 372.24L145.98 374.87L150.17 376.35L154.36 377.18L158.55 377.75L162.74 378.24L166.94 378.57L175.32 378.99L183.7 379.4L192.09 379.73L208.86 380.14L221.43 380.3L238.2 380.47" stroke="#747474" stroke-width="1.5" fill="none" stroke-linejoin="round" clip-path="url(#cic)"/>
<g fill="#fff" stroke="#747474" stroke-width="0.9" clip-path="url(#cic)"><rect x="131.7" y="299.11" width="3.4" height="3.4"/><rect x="133.8" y="354.9" width="3.4" height="3.4"/><rect x="135.89" y="364.45" width="3.4" height="3.4"/><rect x="140.08" y="370.54" width="3.4" height="3.4"/><rect x="144.28" y="373.17" width="3.4" height="3.4"/><rect x="148.47" y="374.65" width="3.4" height="3.4"/><rect x="152.66" y="375.48" width="3.4" height="3.4"/><rect x="156.85" y="376.05" width="3.4" height="3.4"/><rect x="161.04" y="376.54" width="3.4" height="3.4"/><rect x="165.24" y="376.87" width="3.4" height="3.4"/><rect x="173.62" y="377.29" width="3.4" height="3.4"/><rect x="182" y="377.7" width="3.4" height="3.4"/><rect x="190.39" y="378.03" width="3.4" height="3.4"/><rect x="207.16" y="378.44" width="3.4" height="3.4"/><rect x="219.73" y="378.6" width="3.4" height="3.4"/><rect x="236.5" y="378.77" width="3.4" height="3.4"/></g>
<path d="M133.4 217.46L135.5 329.77L137.59 348.98L141.78 361.24L145.98 366.54L150.17 369.52L154.36 371.17L158.55 372.33L162.74 373.33L166.94 373.99L175.32 374.82L183.7 375.65L192.09 376.31L208.86 377.14L221.43 377.47L238.2 377.8" stroke="#747474" stroke-width="1.5" fill="none" stroke-linejoin="round" clip-path="url(#cic)"/>
<g fill="#fff" stroke="#747474" stroke-width="0.9" clip-path="url(#cic)"><circle cx="135.5" cy="329.77" r="1.7"/><circle cx="137.59" cy="348.98" r="1.7"/><circle cx="141.78" cy="361.24" r="1.7"/><circle cx="145.98" cy="366.54" r="1.7"/><circle cx="150.17" cy="369.52" r="1.7"/><circle cx="154.36" cy="371.17" r="1.7"/><circle cx="158.55" cy="372.33" r="1.7"/><circle cx="162.74" cy="373.33" r="1.7"/><circle cx="166.94" cy="373.99" r="1.7"/><circle cx="175.32" cy="374.82" r="1.7"/><circle cx="183.7" cy="375.65" r="1.7"/><circle cx="192.09" cy="376.31" r="1.7"/><circle cx="208.86" cy="377.14" r="1.7"/><circle cx="221.43" cy="377.47" r="1.7"/><circle cx="238.2" cy="377.8" r="1.7"/></g>
<path d="M133.4 51.83L135.5 276.43L137.59 314.86L141.78 339.37L145.98 349.97L150.17 355.94L154.36 359.25L158.55 361.57L162.74 363.56L166.94 364.88L175.32 366.54L183.7 368.19L192.09 369.52L208.86 371.17L221.43 371.84L238.2 372.5" stroke="#747474" stroke-width="1.5" fill="none" stroke-linejoin="round" clip-path="url(#cic)"/>
<g fill="#fff" stroke="#747474" stroke-width="0.9" clip-path="url(#cic)"><path d="M137.59 312.9L139.55 316.32L135.64 316.32Z"/><path d="M141.78 337.42L143.74 340.84L139.83 340.84Z"/><path d="M145.98 348.02L147.93 351.44L144.02 351.44Z"/><path d="M150.17 353.98L152.12 357.4L148.21 357.4Z"/><path d="M154.36 357.29L156.32 360.71L152.41 360.71Z"/><path d="M158.55 359.61L160.51 363.03L156.6 363.03Z"/><path d="M162.74 361.6L164.7 365.02L160.79 365.02Z"/><path d="M166.94 362.93L168.89 366.35L164.98 366.35Z"/><path d="M175.32 364.58L177.28 368L173.36 368Z"/><path d="M183.7 366.24L185.66 369.66L181.75 369.66Z"/><path d="M192.09 367.56L194.04 370.98L190.13 370.98Z"/><path d="M208.86 369.22L210.81 372.64L206.9 372.64Z"/><path d="M221.43 369.88L223.39 373.3L219.48 373.3Z"/><path d="M238.2 370.54L240.16 373.97L236.24 373.97Z"/></g>
<rect x="133.4" y="298.7" width="104.8" height="84.4" fill="none" stroke="#303030" stroke-width="1.1"/>
<path d="M133.4 383.1V380.6M185.8 383.1V380.6M238.2 383.1V380.6M159.6 383.1V381.6M212 383.1V381.6M133.4 383.1H135.9M133.4 362H135.9M133.4 340.9H135.9M133.4 319.8H135.9M133.4 298.7H135.9" stroke="#303030" stroke-width="0.9" fill="none"/>
<text x="130.4" y="386.7" font-size="10" text-anchor="end" >0</text>
<text x="130.4" y="365.6" font-size="10" text-anchor="end" >0.001</text>
<text x="130.4" y="344.5" font-size="10" text-anchor="end" >0.002</text>
<text x="130.4" y="323.4" font-size="10" text-anchor="end" >0.003</text>
<text x="130.4" y="302.3" font-size="10" text-anchor="end" >0.004</text>
<text x="133.4" y="395.7" font-size="10" text-anchor="middle" >0</text>
<text x="187.3" y="395.7" font-size="10" text-anchor="middle" >250</text>
<text x="238.2" y="395.7" font-size="10" text-anchor="middle" >500</text>
<text x="187.5" y="406.5" font-size="10.5" text-anchor="middle" ><tspan font-style="italic">n</tspan></text>
<text transform="translate(98.8,332.9) rotate(-90)" font-size="9.3" text-anchor="middle"><tspan font-style="italic">k</tspan><tspan font-size="7.5" dy="2.5">t,n</tspan><tspan dy="-2.5" dx="2.5">(m</tspan><tspan font-size="6.8" dy="-2.8">2</tspan><tspan dy="2.8">/s</tspan><tspan font-size="6.8" dy="-2.8">2</tspan><tspan dy="2.8">)</tspan></text>
<path d="M41.2 508.7V505.2M102.36 508.7V505.2M163.52 508.7V505.2M224.68 508.7V505.2M285.84 508.7V505.2M347 508.7V505.2M41.2 508.7H44.7M41.2 464.6H44.7M41.2 420.5H44.7M41.2 376.4H44.7M41.2 332.3H44.7M41.2 288.2H44.7M41.2 486.65H43.2M41.2 442.55H43.2M41.2 398.45H43.2M41.2 354.35H43.2M41.2 310.25H43.2" stroke="#303030" stroke-width="1.0" fill="none"/>
<rect x="41.2" y="288.2" width="305.8" height="220.5" fill="none" stroke="#303030" stroke-width="1.3"/>
<text x="37.7" y="514.1" font-size="12" text-anchor="end" >0.0</text>
<text x="37.7" y="470" font-size="12" text-anchor="end" >0.2</text>
<text x="37.7" y="425.9" font-size="12" text-anchor="end" >0.4</text>
<text x="37.7" y="381.8" font-size="12" text-anchor="end" >0.6</text>
<text x="37.7" y="337.7" font-size="12" text-anchor="end" >0.8</text>
<text x="37.7" y="293.6" font-size="12" text-anchor="end" >1.0</text>
<text x="40.6" y="523.7" font-size="12" text-anchor="middle" >0</text>
<text x="101.76" y="523.7" font-size="12" text-anchor="middle" >100</text>
<text x="162.92" y="523.7" font-size="12" text-anchor="middle" >200</text>
<text x="224.08" y="523.7" font-size="12" text-anchor="middle" >300</text>
<text x="285.24" y="523.7" font-size="12" text-anchor="middle" >400</text>
<text x="346.4" y="523.7" font-size="12" text-anchor="middle" >500</text>
<text x="153.5" y="544.2" font-size="12.2" text-anchor="start" ><tspan font-style="italic">n</tspan> (stems/m<tspan font-size="8.7" dy="-4.7">2</tspan><tspan dy="4.7">)</tspan></text>
<text transform="translate(11.3,390.5) rotate(-90)" font-size="13.5" text-anchor="middle"><tspan font-style="italic">k</tspan><tspan font-size="10" dy="3">t,n</tspan><tspan dy="-3">/</tspan><tspan font-style="italic">k</tspan><tspan font-size="10" dy="3">t,0</tspan></text>
<path d="M410.2 288L416.32 332.84L422.43 370.17L434.66 402.21L446.9 418.33L459.13 428.49L471.36 436L483.59 441.97L495.82 446.61L508.06 450.36L532.52 456.1L556.98 461.19L581.45 464.17L630.38 470.46L667.07 474.22L716 478.19" stroke="#ea2a2c" stroke-width="1.7" fill="none" stroke-linejoin="round" clip-path="url(#cd)"/>
<g fill="#fff" stroke="#ea2a2c" stroke-width="1.0" clip-path="url(#cd)"><circle cx="410.2" cy="288" r="2.6"/><circle cx="416.32" cy="332.84" r="2.6"/><circle cx="422.43" cy="370.17" r="2.6"/><circle cx="434.66" cy="402.21" r="2.6"/><circle cx="446.9" cy="418.33" r="2.6"/><circle cx="459.13" cy="428.49" r="2.6"/><circle cx="471.36" cy="436" r="2.6"/><circle cx="483.59" cy="441.97" r="2.6"/><circle cx="495.82" cy="446.61" r="2.6"/><circle cx="508.06" cy="450.36" r="2.6"/><circle cx="532.52" cy="456.1" r="2.6"/><circle cx="556.98" cy="461.19" r="2.6"/><circle cx="581.45" cy="464.17" r="2.6"/><circle cx="630.38" cy="470.46" r="2.6"/><circle cx="667.07" cy="474.22" r="2.6"/><circle cx="716" cy="478.19" r="2.6"/></g>
<path d="M410.2 288L416.32 377.46L422.43 404.86L434.66 427.83L446.9 440.42L459.13 447.93L471.36 453.23L483.59 457.65L495.82 460.96L508.06 463.62L532.52 467.81L556.98 470.91L581.45 473.34L630.38 477.42L667.07 479.52L716 482.17" stroke="#747474" stroke-width="1.7" fill="none" stroke-linejoin="round" clip-path="url(#cd)"/>
<g fill="#fff" stroke="#747474" stroke-width="1.0" clip-path="url(#cd)"><rect x="407.9" y="285.7" width="4.6" height="4.6"/><rect x="414.02" y="375.16" width="4.6" height="4.6"/><rect x="420.13" y="402.56" width="4.6" height="4.6"/><rect x="432.36" y="425.53" width="4.6" height="4.6"/><rect x="444.6" y="438.12" width="4.6" height="4.6"/><rect x="456.83" y="445.63" width="4.6" height="4.6"/><rect x="469.06" y="450.93" width="4.6" height="4.6"/><rect x="481.29" y="455.35" width="4.6" height="4.6"/><rect x="493.52" y="458.66" width="4.6" height="4.6"/><rect x="505.76" y="461.32" width="4.6" height="4.6"/><rect x="530.22" y="465.51" width="4.6" height="4.6"/><rect x="554.68" y="468.61" width="4.6" height="4.6"/><rect x="579.15" y="471.04" width="4.6" height="4.6"/><rect x="628.08" y="475.12" width="4.6" height="4.6"/><rect x="664.77" y="477.22" width="4.6" height="4.6"/><rect x="713.7" y="479.87" width="4.6" height="4.6"/></g>
<path d="M410.2 288L416.32 377.46L422.43 404.86L434.66 427.83L446.9 440.42L459.13 447.93L471.36 453.23L483.59 457.65L495.82 460.96L508.06 463.62L532.52 467.81L556.98 470.91L581.45 473.34L630.38 477.42L667.07 479.52L716 482.17" stroke="#747474" stroke-width="1.7" fill="none" stroke-linejoin="round" clip-path="url(#cd)"/>
<g fill="#fff" stroke="#747474" stroke-width="1.0" clip-path="url(#cd)"><circle cx="410.2" cy="288" r="2.6"/><circle cx="416.32" cy="377.46" r="2.6"/><circle cx="422.43" cy="404.86" r="2.6"/><circle cx="434.66" cy="427.83" r="2.6"/><circle cx="446.9" cy="440.42" r="2.6"/><circle cx="459.13" cy="447.93" r="2.6"/><circle cx="471.36" cy="453.23" r="2.6"/><circle cx="483.59" cy="457.65" r="2.6"/><circle cx="495.82" cy="460.96" r="2.6"/><circle cx="508.06" cy="463.62" r="2.6"/><circle cx="532.52" cy="467.81" r="2.6"/><circle cx="556.98" cy="470.91" r="2.6"/><circle cx="581.45" cy="473.34" r="2.6"/><circle cx="630.38" cy="477.42" r="2.6"/><circle cx="667.07" cy="479.52" r="2.6"/><circle cx="716" cy="482.17" r="2.6"/></g>
<path d="M410.2 288L416.32 431.14L422.43 446.16L434.66 460.52L446.9 467.15L459.13 471.57L471.36 474.66L483.59 477.09L495.82 479.52L508.06 480.85L532.52 483.05L556.98 484.82L581.45 486.81L630.38 489.24L667.07 490.57L716 491.67" stroke="#2e4bb8" stroke-width="1.7" fill="none" stroke-linejoin="round" clip-path="url(#cd)"/>
<g fill="#fff" stroke="#2e4bb8" stroke-width="1.0" clip-path="url(#cd)"><circle cx="410.2" cy="288" r="2.6"/><circle cx="416.32" cy="431.14" r="2.6"/><circle cx="422.43" cy="446.16" r="2.6"/><circle cx="434.66" cy="460.52" r="2.6"/><circle cx="446.9" cy="467.15" r="2.6"/><circle cx="459.13" cy="471.57" r="2.6"/><circle cx="471.36" cy="474.66" r="2.6"/><circle cx="483.59" cy="477.09" r="2.6"/><circle cx="495.82" cy="479.52" r="2.6"/><circle cx="508.06" cy="480.85" r="2.6"/><circle cx="532.52" cy="483.05" r="2.6"/><circle cx="556.98" cy="484.82" r="2.6"/><circle cx="581.45" cy="486.81" r="2.6"/><circle cx="630.38" cy="489.24" r="2.6"/><circle cx="667.07" cy="490.57" r="2.6"/><circle cx="716" cy="491.67" r="2.6"/></g>
<path d="M410.2 491.67L416.32 479.96L422.43 472.01L434.66 460.52L446.9 452.35L459.13 445.94L471.36 439.76L483.59 433.35L495.82 427.83L508.06 423.85L532.52 415.02L556.98 407.51L581.45 400.44L630.38 388.29L667.07 379.01L716 366.42" stroke="#747474" stroke-width="1.8" fill="none" stroke-linejoin="round" stroke-dasharray="6 2.2 1.6 2.2" clip-path="url(#cd)"/>
<g fill="#fff" stroke="#747474" stroke-width="1.0" clip-path="url(#cd)"><circle cx="410.2" cy="491.67" r="2.6"/><circle cx="416.32" cy="479.96" r="2.6"/><circle cx="422.43" cy="472.01" r="2.6"/><circle cx="434.66" cy="460.52" r="2.6"/><circle cx="446.9" cy="452.35" r="2.6"/><circle cx="459.13" cy="445.94" r="2.6"/><circle cx="471.36" cy="439.76" r="2.6"/><circle cx="483.59" cy="433.35" r="2.6"/><circle cx="495.82" cy="427.83" r="2.6"/><circle cx="508.06" cy="423.85" r="2.6"/><circle cx="532.52" cy="415.02" r="2.6"/><circle cx="556.98" cy="407.51" r="2.6"/><circle cx="581.45" cy="400.44" r="2.6"/><circle cx="630.38" cy="388.29" r="2.6"/><circle cx="667.07" cy="379.01" r="2.6"/><circle cx="716" cy="366.42" r="2.6"/></g>
<path d="M485.5 490L535.2 441.68" stroke="#747474" stroke-width="1.6" fill="none"/>
<path d="M539.5 437.5L536.06 445.44L535.56 441.33L531.46 440.71Z" fill="#747474" stroke="#747474" stroke-width="0.6" stroke-linejoin="miter"/>
<text x="546.3" y="441" font-size="11.2" text-anchor="start" ><tspan font-style="italic">d</tspan> increases</text>
<rect x="469.2" y="297.7" width="105.1" height="84.3" fill="#fff" stroke="#303030" stroke-width="1.1"/>
<path d="M469.2 317.37L471.3 343.55L473.4 351.56L477.61 358.54L481.81 361.96L486.02 363.97L490.22 365.36L494.42 366.52L498.63 367.37L502.83 368.03L511.24 369.19L519.65 370.04L528.06 370.8L544.87 371.99L557.48 372.75L574.3 373.41" stroke="#747474" stroke-width="1.5" fill="none" stroke-linejoin="round" clip-path="url(#cid)"/>
<g fill="#fff" stroke="#747474" stroke-width="0.9" clip-path="url(#cid)"><rect x="467.5" y="315.67" width="3.4" height="3.4"/><rect x="469.6" y="341.85" width="3.4" height="3.4"/><rect x="471.7" y="349.86" width="3.4" height="3.4"/><rect x="475.91" y="356.84" width="3.4" height="3.4"/><rect x="480.11" y="360.26" width="3.4" height="3.4"/><rect x="484.32" y="362.27" width="3.4" height="3.4"/><rect x="488.52" y="363.66" width="3.4" height="3.4"/><rect x="492.72" y="364.82" width="3.4" height="3.4"/><rect x="496.93" y="365.67" width="3.4" height="3.4"/><rect x="501.13" y="366.33" width="3.4" height="3.4"/><rect x="509.54" y="367.49" width="3.4" height="3.4"/><rect x="517.95" y="368.34" width="3.4" height="3.4"/><rect x="526.36" y="369.1" width="3.4" height="3.4"/><rect x="543.17" y="370.29" width="3.4" height="3.4"/><rect x="555.78" y="371.05" width="3.4" height="3.4"/><rect x="572.6" y="371.71" width="3.4" height="3.4"/></g>
<path d="M469.2 273.81L471.3 317.63L473.4 331.04L477.61 342.3L481.81 348.46L486.02 352.14L490.22 354.74L494.42 356.9L498.63 358.52L502.83 359.82L511.24 361.88L519.65 363.39L528.06 364.58L544.87 366.58L557.48 367.61L574.3 368.91" stroke="#747474" stroke-width="1.5" fill="none" stroke-linejoin="round" clip-path="url(#cid)"/>
<g fill="#fff" stroke="#747474" stroke-width="0.9" clip-path="url(#cid)"><circle cx="471.3" cy="317.63" r="1.7"/><circle cx="473.4" cy="331.04" r="1.7"/><circle cx="477.61" cy="342.3" r="1.7"/><circle cx="481.81" cy="348.46" r="1.7"/><circle cx="486.02" cy="352.14" r="1.7"/><circle cx="490.22" cy="354.74" r="1.7"/><circle cx="494.42" cy="356.9" r="1.7"/><circle cx="498.63" cy="358.52" r="1.7"/><circle cx="502.83" cy="359.82" r="1.7"/><circle cx="511.24" cy="361.88" r="1.7"/><circle cx="519.65" cy="363.39" r="1.7"/><circle cx="528.06" cy="364.58" r="1.7"/><circle cx="544.87" cy="366.58" r="1.7"/><circle cx="557.48" cy="367.61" r="1.7"/><circle cx="574.3" cy="368.91" r="1.7"/></g>
<path d="M469.2 241.5L471.3 298.4L473.4 315.82L477.61 330.44L481.81 338.44L486.02 343.22L490.22 346.59L494.42 349.4L498.63 351.51L502.83 353.2L511.24 355.87L519.65 357.83L528.06 359.61L544.87 362.88L557.48 364.81L574.3 366.87" stroke="#747474" stroke-width="1.5" fill="none" stroke-linejoin="round" clip-path="url(#cid)"/>
<g fill="#fff" stroke="#747474" stroke-width="0.9" clip-path="url(#cid)"><path d="M471.3 296.45L473.26 299.87L469.35 299.87Z"/><path d="M473.4 313.87L475.36 317.29L471.45 317.29Z"/><path d="M477.61 328.48L479.56 331.9L475.65 331.9Z"/><path d="M481.81 336.49L483.77 339.91L479.86 339.91Z"/><path d="M486.02 341.27L487.97 344.69L484.06 344.69Z"/><path d="M490.22 344.64L492.17 348.06L488.26 348.06Z"/><path d="M494.42 347.45L496.38 350.87L492.47 350.87Z"/><path d="M498.63 349.56L500.58 352.98L496.67 352.98Z"/><path d="M502.83 351.24L504.79 354.66L500.88 354.66Z"/><path d="M511.24 353.91L513.19 357.33L509.28 357.33Z"/><path d="M519.65 355.88L521.6 359.3L517.69 359.3Z"/><path d="M528.06 357.65L530.01 361.07L526.1 361.07Z"/><path d="M544.87 360.92L546.83 364.35L542.92 364.35Z"/><path d="M557.48 362.85L559.44 366.27L555.53 366.27Z"/><path d="M574.3 364.91L576.25 368.34L572.34 368.34Z"/></g>
<rect x="469.2" y="297.7" width="105.1" height="84.3" fill="none" stroke="#303030" stroke-width="1.1"/>
<path d="M469.2 382V379.5M521.75 382V379.5M574.3 382V379.5M495.47 382V380.5M548.02 382V380.5M469.2 382H471.7M469.2 353.9H471.7M469.2 325.8H471.7M469.2 297.7H471.7M469.2 367.95H470.7M469.2 339.85H470.7M469.2 311.75H470.7" stroke="#303030" stroke-width="0.9" fill="none"/>
<text x="466.2" y="387.4" font-size="10" text-anchor="end" >0</text>
<text x="466.2" y="359.3" font-size="10" text-anchor="end" >2</text>
<text x="466.2" y="331.2" font-size="10" text-anchor="end" >4</text>
<text x="466.2" y="303.1" font-size="10" text-anchor="end" >6</text>
<text x="468.7" y="394.9" font-size="10" text-anchor="middle" >0</text>
<text x="523.95" y="394.9" font-size="10" text-anchor="middle" >250</text>
<text x="576.1" y="394.9" font-size="10" text-anchor="middle" >500</text>
<text x="524.95" y="405.8" font-size="10.5" text-anchor="middle" ><tspan font-style="italic">n</tspan></text>
<text transform="translate(452.2,340.5) rotate(-90)" font-size="9.8" text-anchor="middle"><tspan font-style="italic">D</tspan><tspan font-size="7.5" dy="2.5">z,n</tspan><tspan dy="-2.5" dx="2.5">(cm</tspan><tspan font-size="6.8" dy="-2.8">2</tspan><tspan dy="2.8">/s)</tspan></text>
<path d="M632.7 299H662.7" stroke="#747474" stroke-width="1.8"/>
<path d="M632.7 315.3H662.7" stroke="#747474" stroke-width="1.8" stroke-dasharray="6 2.2 1.6 2.2"/>
<text x="669" y="303.3" font-size="12.5" text-anchor="start" ><tspan font-style="italic">D</tspan><tspan font-size="9" dy="3">z,n</tspan><tspan dy="-3">/</tspan><tspan font-style="italic">D</tspan><tspan font-size="9" dy="3">z,0</tspan></text>
<text x="669" y="319.6" font-size="12.5" text-anchor="start" ><tspan font-style="italic">P</tspan><tspan font-size="9" dy="3">e</tspan></text>
<path d="M410.2 508.9V505.4M471.36 508.9V505.4M532.52 508.9V505.4M593.68 508.9V505.4M654.84 508.9V505.4M716 508.9V505.4M410.2 508.9H413.7M410.2 464.72H413.7M410.2 420.54H413.7M410.2 376.36H413.7M410.2 332.18H413.7M410.2 288H413.7M410.2 486.81H412.2M410.2 442.63H412.2M410.2 398.45H412.2M410.2 354.27H412.2M410.2 310.09H412.2" stroke="#303030" stroke-width="1.0" fill="none"/>
<path d="M716 508.9H712.5M716 464.72H712.5M716 420.54H712.5M716 376.36H712.5M716 332.18H712.5M716 288H712.5M716 486.81H714M716 442.63H714M716 398.45H714M716 354.27H714M716 310.09H714" stroke="#303030" stroke-width="1" fill="none"/>
<rect x="410.2" y="288" width="305.8" height="220.9" fill="none" stroke="#303030" stroke-width="1.3"/>
<text x="406.7" y="514.3" font-size="12" text-anchor="end" >0.0</text>
<text x="406.7" y="470.12" font-size="12" text-anchor="end" >0.2</text>
<text x="406.7" y="425.94" font-size="12" text-anchor="end" >0.4</text>
<text x="406.7" y="381.76" font-size="12" text-anchor="end" >0.6</text>
<text x="406.7" y="337.58" font-size="12" text-anchor="end" >0.8</text>
<text x="406.7" y="293.4" font-size="12" text-anchor="end" >1.0</text>
<text x="409.6" y="523.9" font-size="12" text-anchor="middle" >0</text>
<text x="470.76" y="523.9" font-size="12" text-anchor="middle" >100</text>
<text x="531.92" y="523.9" font-size="12" text-anchor="middle" >200</text>
<text x="593.08" y="523.9" font-size="12" text-anchor="middle" >300</text>
<text x="654.24" y="523.9" font-size="12" text-anchor="middle" >400</text>
<text x="715.4" y="523.9" font-size="12" text-anchor="middle" >500</text>
<text x="719.8" y="513.2" font-size="12" text-anchor="start" >0</text>
<text x="719.8" y="469.02" font-size="12" text-anchor="start" >2</text>
<text x="719.8" y="424.84" font-size="12" text-anchor="start" >4</text>
<text x="719.8" y="380.66" font-size="12" text-anchor="start" >6</text>
<text x="719.8" y="336.48" font-size="12" text-anchor="start" >8</text>
<text x="719.8" y="292.3" font-size="12" text-anchor="start" >10</text>
<text x="522.5" y="544.3" font-size="12.2" text-anchor="start" ><tspan font-style="italic">n</tspan> (stems/m<tspan font-size="8.7" dy="-4.7">2</tspan><tspan dy="4.7">)</tspan></text>
<text transform="translate(381.5,392.4) rotate(-90)" font-size="13" text-anchor="middle"><tspan font-style="italic">D</tspan><tspan font-size="9.5" dy="3">z,n</tspan><tspan dy="-3">/</tspan><tspan font-style="italic">D</tspan><tspan font-size="9.5" dy="3">z,0</tspan></text>
<text transform="translate(741.5,400) rotate(-90)" font-size="12.5" text-anchor="middle"><tspan font-style="italic">P</tspan><tspan font-size="9" dy="3">e</tspan></text>
</svg>
</body></html>
